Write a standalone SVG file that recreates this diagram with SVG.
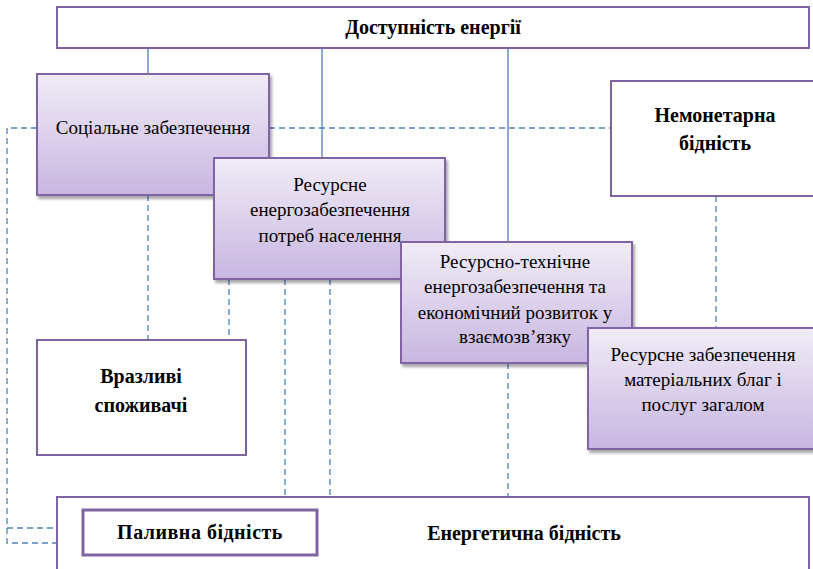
<svg xmlns="http://www.w3.org/2000/svg" width="813" height="569" viewBox="0 0 813 569">
<style>
.box{stroke:#8064a2;stroke-width:2;}
.w{fill:#ffffff;}
.g{fill:url(#grad);filter:url(#sh);}
.solid{stroke:#4f81bd;stroke-width:1.3;fill:none;}
.dash{stroke:#4f81bd;stroke-width:1.3;fill:none;stroke-dasharray:6,4;}
text{font-family:'Liberation Serif','Times New Roman',serif;font-size:19px;fill:#000;text-anchor:middle;}
.b{font-weight:bold;font-size:20px;}
</style>
<defs>
<linearGradient id="grad" x1="0" y1="0" x2="0" y2="1">
<stop offset="0" stop-color="#f1ecf7"/>
<stop offset="1" stop-color="#c8b6e1"/>
</linearGradient>
<filter id="sh" x="-10%" y="-10%" width="125%" height="130%">
<feDropShadow dx="2" dy="3" stdDeviation="1.5" flood-color="#000" flood-opacity="0.35"/>
</filter>
</defs>
<rect width="813" height="569" fill="#ffffff"/>
<g id="connectors">
<line class="solid" x1="148" y1="48" x2="148" y2="74"/>
<line class="solid" x1="322" y1="48" x2="322" y2="158"/>
<line class="solid" x1="508" y1="48" x2="508" y2="242"/>
<polyline class="dash" points="37,128 7,128 7,543 57,543"/>
<line class="dash" x1="7" y1="528" x2="83" y2="528"/>
<line class="dash" x1="269" y1="128" x2="611" y2="128"/>
<line class="dash" x1="148" y1="195" x2="148" y2="340"/>
<line class="dash" x1="229" y1="279" x2="229" y2="340"/>
<line class="dash" x1="285" y1="279" x2="285" y2="510"/>
<line class="dash" x1="330" y1="279" x2="330" y2="497"/>
<line class="dash" x1="508" y1="363" x2="508" y2="497"/>
<line class="dash" x1="716" y1="196" x2="716" y2="328"/>
</g>
<g id="energy-poverty">
<rect class="box w" x="57" y="497" width="752" height="80"/>
<text class="b" font-family="Liberation Serif" x="524" y="540">Енергетична бідність</text>
</g>
<g id="fuel-poverty">
<rect class="w" x="83" y="510" width="234" height="45" stroke="#8064a2" stroke-width="3"/>
<text class="b" font-family="Liberation Serif" x="200" y="539" letter-spacing="0.5">Паливна бідність</text>
</g>
<g id="access">
<rect class="box w" x="57" y="7" width="752" height="41"/>
<text class="b" font-family="Liberation Serif" x="433" y="34">Доступність енергії</text>
</g>
<g id="vulnerable">
<rect class="box w" x="37" y="340" width="209" height="115"/>
<text class="b" font-family="Liberation Serif" x="141" y="383">Вразливі</text>
<text class="b" font-family="Liberation Serif" x="141" y="412">споживачі</text>
</g>
<g id="nonmonetary">
<rect class="box w" x="611" y="81" width="210" height="115"/>
<text class="b" font-family="Liberation Serif" x="715" y="122">Немонетарна</text>
<text class="b" font-family="Liberation Serif" x="715" y="150">бідність</text>
</g>
<g id="social">
<rect class="box g" x="37" y="74" width="232" height="121"/>
<text font-family="Liberation Serif" x="153" y="134">Соціальне забезпечення</text>
</g>
<g id="resource-pop">
<rect class="box g" x="214" y="158" width="231" height="121"/>
<text font-family="Liberation Serif" x="330" y="191">Ресурсне</text>
<text font-family="Liberation Serif" x="330" y="216">енергозабезпечення</text>
<text font-family="Liberation Serif" x="330" y="242">потреб населення</text>
</g>
<g id="resource-tech">
<rect class="box g" x="401" y="242" width="231" height="121"/>
<text font-family="Liberation Serif" x="515" y="268">Ресурсно-технічне</text>
<text font-family="Liberation Serif" x="515" y="293">енергозабезпечення та</text>
<text font-family="Liberation Serif" x="515" y="319">економічний розвиток у</text>
<text font-family="Liberation Serif" x="515" y="343">взаємозв’язку</text>
</g>
<g id="resource-goods">
<rect class="box g" x="588" y="328" width="232" height="121"/>
<text font-family="Liberation Serif" x="703" y="361">Ресурсне забезпечення</text>
<text font-family="Liberation Serif" x="703" y="386">матеріальних благ і</text>
<text font-family="Liberation Serif" x="703" y="411">послуг загалом</text>
</g>
</svg>
